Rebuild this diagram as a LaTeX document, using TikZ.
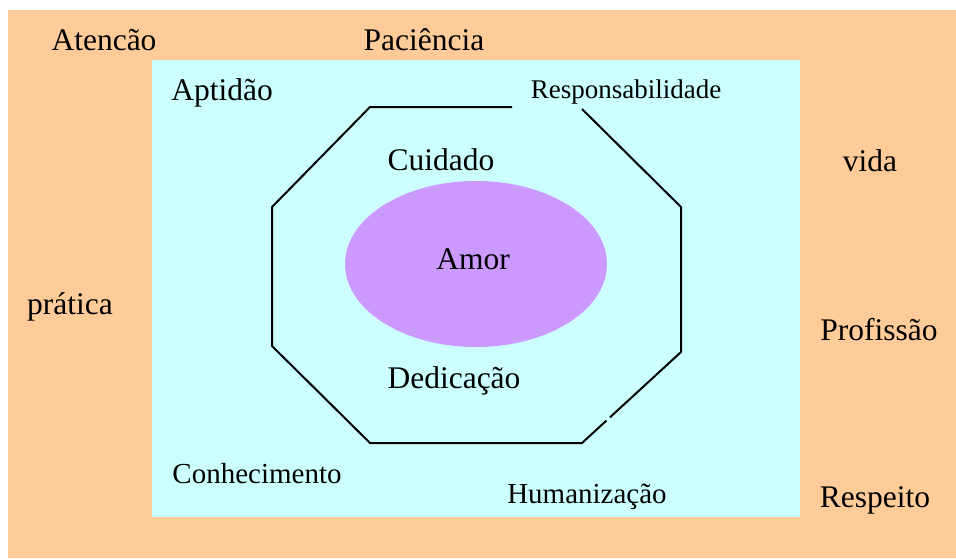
\documentclass[tikz,border=0pt]{standalone}
\usepackage{fontspec}
\setmainfont{Liberation Serif}
\usetikzlibrary{positioning}
\definecolor{peach}{HTML}{FFCC99}
\definecolor{palecyan}{HTML}{CCFFFF}
\definecolor{lilac}{HTML}{CC99FF}
\tikzstyle{word}=[anchor=base,inner sep=0,font=\fontsize{31.5}{36}\selectfont]
\tikzstyle{midword}=[word,font=\fontsize{29}{34}\selectfont]
\tikzstyle{smallword}=[word,font=\fontsize{27}{32}\selectfont]
\tikzstyle{octa}=[draw=black,line width=2pt,line join=miter]

\begin{document}
\begin{tikzpicture}[x=1pt,y=-1pt]
\path[use as bounding box] (0,0) rectangle (956,558);

\fill[peach] (8,10) rectangle (956,558);
\fill[palecyan] (152,60) rectangle (800,517);
\fill[lilac] (476,264) ellipse [x radius=131, y radius=83];

\coordinate (o1) at (370,107);
\coordinate (o1b) at (512,107);
\coordinate (o2) at (582,109);
\coordinate (o3) at (681,207);
\coordinate (o4) at (681,352);
\coordinate (o4b) at (610,417.3);
\coordinate (o5a) at (606.5,420.5);
\coordinate (o5) at (582,443);
\coordinate (o6) at (370,443);
\coordinate (o7) at (272,346);
\coordinate (o8) at (272,207);

\path[octa]
(o2) -- (o3) -- (o4) -- (o4b)
(o5a) -- (o5) -- (o6) -- (o7) -- (o8) -- (o1) -- (o1b)
;

\node[word] (aten) at (104,50.5) {Atencão};
\node[word] (paci) at (424,50.5) {Paciência};
\node[word] (apti) at (222,100) {Aptidão};
\node[smallword] (resp) at (626,98) {Responsabilidade};
\node[word] (vida) at (870,171) {vida};
\node[word] (cuid) at (441,170) {Cuidado};
\node[word] (amor) at (473,269) {Amor};
\node[word] (prat) at (70,314) {prática};
\node[word] (prof) at (879,340) {Profissão};
\node[word] (dedi) at (454,388) {Dedicação};
\node[midword] (conh) at (257,483) {Conhecimento};
\node[midword] (huma) at (587,503) {Humanização};
\node[word] (rspt) at (875,507) {Respeito};
\end{tikzpicture}
\end{document}
